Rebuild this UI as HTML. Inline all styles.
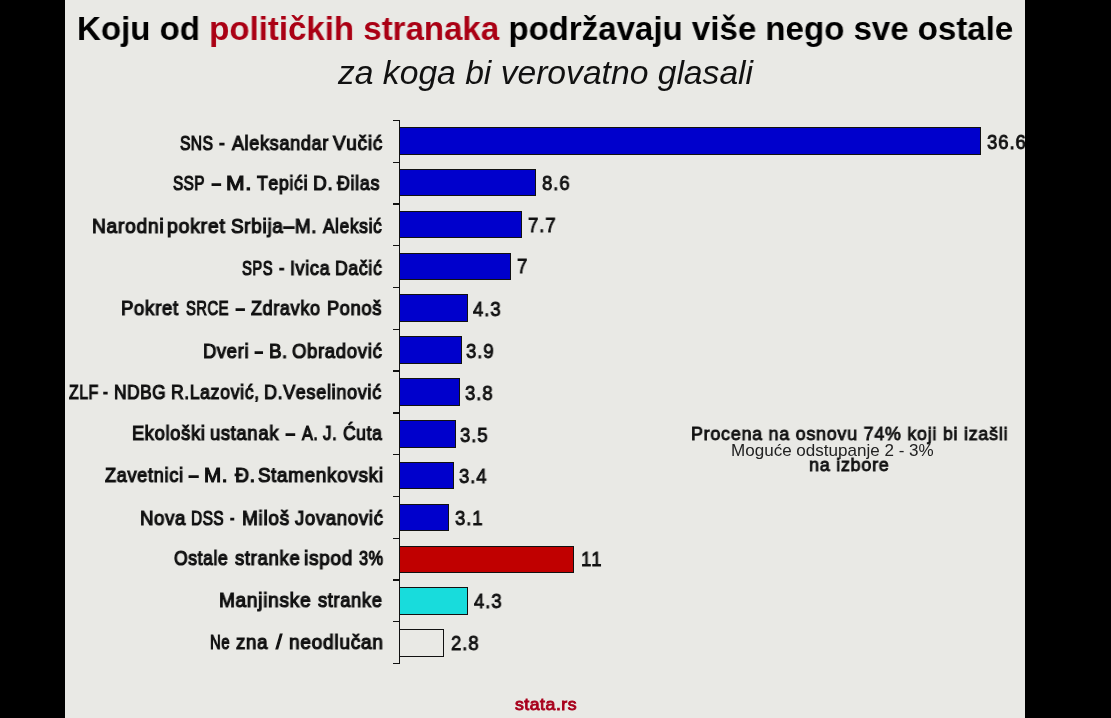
<!DOCTYPE html>
<html><head><meta charset="utf-8"><style>
html,body{margin:0;padding:0;}
body{width:1111px;height:718px;background:#000;position:relative;overflow:hidden;font-family:"Liberation Sans",sans-serif;}
#slide{position:absolute;left:65px;top:0;width:960px;height:718px;background:#e9e9e5;}
.t{position:absolute;white-space:pre;line-height:1;transform-origin:0 0;will-change:transform;}
.bar{position:absolute;box-sizing:border-box;border:1px solid #111;}
.ax{position:absolute;background:#111;}
#rblack{position:absolute;left:1025px;top:0;width:86px;height:718px;background:#000;}
</style></head><body>
<div id="slide"></div>

<div id="title" class="t" style="left:76.77px;top:11.64px;font-size:33.5px;font-weight:bold;font-style:normal;color:#000;transform:scaleX(0.9861);">Koju od <span style="color:#aa0014">političkih stranaka</span> podržavaju više nego sve ostale</div>
<div id="sub" class="t" style="left:337.62px;top:56.69px;font-size:32.5px;font-weight:normal;font-style:italic;color:#111;transform:scaleX(1.0348);">za koga bi verovatno glasali</div>
<div class="ax" style="left:399.00px;top:119.90px;width:1.3px;height:543.88px"></div>
<div class="ax" style="left:393.00px;top:119.90px;width:6.5px;height:1.3px"></div>
<div class="ax" style="left:393.00px;top:161.66px;width:6.5px;height:1.3px"></div>
<div class="ax" style="left:393.00px;top:203.42px;width:6.5px;height:1.3px"></div>
<div class="ax" style="left:393.00px;top:245.18px;width:6.5px;height:1.3px"></div>
<div class="ax" style="left:393.00px;top:286.94px;width:6.5px;height:1.3px"></div>
<div class="ax" style="left:393.00px;top:328.70px;width:6.5px;height:1.3px"></div>
<div class="ax" style="left:393.00px;top:370.46px;width:6.5px;height:1.3px"></div>
<div class="ax" style="left:393.00px;top:412.22px;width:6.5px;height:1.3px"></div>
<div class="ax" style="left:393.00px;top:453.98px;width:6.5px;height:1.3px"></div>
<div class="ax" style="left:393.00px;top:495.74px;width:6.5px;height:1.3px"></div>
<div class="ax" style="left:393.00px;top:537.50px;width:6.5px;height:1.3px"></div>
<div class="ax" style="left:393.00px;top:579.26px;width:6.5px;height:1.3px"></div>
<div class="ax" style="left:393.00px;top:621.02px;width:6.5px;height:1.3px"></div>
<div class="ax" style="left:393.00px;top:662.78px;width:6.5px;height:1.3px"></div>
<div class="bar" style="left:399.00px;top:127.00px;width:581.50px;height:27.6px;background:#0000cc"></div>
<div class="bar" style="left:399.00px;top:168.85px;width:137.40px;height:27.6px;background:#0000cc"></div>
<div class="bar" style="left:399.00px;top:210.70px;width:123.13px;height:27.6px;background:#0000cc"></div>
<div class="bar" style="left:399.00px;top:252.55px;width:112.02px;height:27.6px;background:#0000cc"></div>
<div class="bar" style="left:399.00px;top:294.40px;width:69.20px;height:27.6px;background:#0000cc"></div>
<div class="bar" style="left:399.00px;top:336.25px;width:62.86px;height:27.6px;background:#0000cc"></div>
<div class="bar" style="left:399.00px;top:378.10px;width:61.27px;height:27.6px;background:#0000cc"></div>
<div class="bar" style="left:399.00px;top:419.95px;width:56.51px;height:27.6px;background:#0000cc"></div>
<div class="bar" style="left:399.00px;top:461.80px;width:54.93px;height:27.6px;background:#0000cc"></div>
<div class="bar" style="left:399.00px;top:503.65px;width:50.17px;height:27.6px;background:#0000cc"></div>
<div class="bar" style="left:399.00px;top:545.50px;width:175.47px;height:27.6px;background:#c00000"></div>
<div class="bar" style="left:399.00px;top:587.35px;width:69.20px;height:27.6px;background:#18dcdc"></div>
<div class="bar" style="left:399.00px;top:629.20px;width:45.41px;height:27.6px;background:transparent"></div>
<div id="lab0w0" class="t" style="left:179.56px;top:132.86px;font-size:20.6px;font-weight:normal;font-style:normal;color:#111;transform:scaleX(0.7571);letter-spacing:0.8px;-webkit-text-stroke-width:1.2px;"><span style="letter-spacing:0.6px">SNS</span></div>
<div id="lab0w1" class="t" style="left:218.94px;top:132.86px;font-size:20.6px;font-weight:normal;font-style:normal;color:#111;transform:scaleX(0.8382);letter-spacing:0.8px;-webkit-text-stroke-width:1.2px;">-</div>
<div id="lab0w2" class="t" style="left:231.50px;top:132.86px;font-size:20.6px;font-weight:normal;font-style:normal;color:#111;transform:scaleX(0.8746);letter-spacing:0.8px;-webkit-text-stroke-width:1.2px;"><span style="letter-spacing:0.6px">A</span>leksandar</div>
<div id="lab0w3" class="t" style="left:332.72px;top:132.86px;font-size:20.6px;font-weight:normal;font-style:normal;color:#111;transform:scaleX(0.9247);letter-spacing:0.8px;-webkit-text-stroke-width:1.2px;"><span style="letter-spacing:0.6px">V</span>učić</div>
<div id="val0" class="t" style="left:987.00px;top:131.63px;font-size:20.4px;font-weight:normal;font-style:normal;color:#111;transform:scaleX(0.9100);letter-spacing:1.0px;-webkit-text-stroke-width:0.9px;">36.6</div>
<div id="lab1w0" class="t" style="left:173.41px;top:172.86px;font-size:20.6px;font-weight:normal;font-style:normal;color:#111;transform:scaleX(0.7421);letter-spacing:0.8px;-webkit-text-stroke-width:1.2px;"><span style="letter-spacing:0.6px">SSP</span></div>
<div id="lab1w1" class="t" style="left:211.88px;top:172.86px;font-size:20.6px;font-weight:normal;font-style:normal;color:#111;transform:scaleX(0.7659);letter-spacing:0.8px;-webkit-text-stroke-width:1.2px;">–</div>
<div id="lab1w2" class="t" style="left:225.76px;top:172.86px;font-size:20.6px;font-weight:normal;font-style:normal;color:#111;transform:scaleX(1.0857);letter-spacing:0.8px;-webkit-text-stroke-width:1.2px;"><span style="letter-spacing:0.6px">M</span>.</div>
<div id="lab1w3" class="t" style="left:256.59px;top:172.86px;font-size:20.6px;font-weight:normal;font-style:normal;color:#111;transform:scaleX(0.8592);letter-spacing:0.8px;-webkit-text-stroke-width:1.2px;"><span style="letter-spacing:0.6px">T</span>epići</div>
<div id="lab1w4" class="t" style="left:312.61px;top:172.86px;font-size:20.6px;font-weight:normal;font-style:normal;color:#111;transform:scaleX(0.9255);letter-spacing:0.8px;-webkit-text-stroke-width:1.2px;"><span style="letter-spacing:0.6px">D</span>.</div>
<div id="lab1w5" class="t" style="left:336.68px;top:172.86px;font-size:20.6px;font-weight:normal;font-style:normal;color:#111;transform:scaleX(0.8695);letter-spacing:0.8px;-webkit-text-stroke-width:1.2px;"><span style="letter-spacing:0.6px">Đ</span>ilas</div>
<div id="val1" class="t" style="left:542.42px;top:173.23px;font-size:20.4px;font-weight:normal;font-style:normal;color:#111;transform:scaleX(0.9100);letter-spacing:1.0px;-webkit-text-stroke-width:0.9px;">8.6</div>
<div id="lab2w0" class="t" style="left:91.69px;top:215.56px;font-size:20.6px;font-weight:normal;font-style:normal;color:#111;transform:scaleX(0.9323);letter-spacing:0.8px;-webkit-text-stroke-width:1.2px;"><span style="letter-spacing:0.6px">N</span>arodni</div>
<div id="lab2w1" class="t" style="left:167.07px;top:215.56px;font-size:20.6px;font-weight:normal;font-style:normal;color:#111;transform:scaleX(0.9456);letter-spacing:0.8px;-webkit-text-stroke-width:1.2px;">pokret</div>
<div id="lab2w2" class="t" style="left:231.47px;top:215.56px;font-size:20.6px;font-weight:normal;font-style:normal;color:#111;transform:scaleX(0.9189);letter-spacing:0.8px;-webkit-text-stroke-width:1.2px;"><span style="letter-spacing:0.6px">S</span>rbija–<span style="letter-spacing:0.6px">M</span>.</div>
<div id="lab2w3" class="t" style="left:323.11px;top:215.56px;font-size:20.6px;font-weight:normal;font-style:normal;color:#111;transform:scaleX(0.8408);letter-spacing:0.8px;-webkit-text-stroke-width:1.2px;"><span style="letter-spacing:0.6px">A</span>leksić</div>
<div id="val2" class="t" style="left:528.40px;top:215.43px;font-size:20.4px;font-weight:normal;font-style:normal;color:#111;transform:scaleX(0.9100);letter-spacing:1.0px;-webkit-text-stroke-width:0.9px;">7.7</div>
<div id="lab3w0" class="t" style="left:241.59px;top:257.56px;font-size:20.6px;font-weight:normal;font-style:normal;color:#111;transform:scaleX(0.7216);letter-spacing:0.8px;-webkit-text-stroke-width:1.2px;"><span style="letter-spacing:0.6px">SPS</span></div>
<div id="lab3w1" class="t" style="left:278.99px;top:257.56px;font-size:20.6px;font-weight:normal;font-style:normal;color:#111;transform:scaleX(0.7833);letter-spacing:0.8px;-webkit-text-stroke-width:1.2px;">-</div>
<div id="lab3w2" class="t" style="left:290.07px;top:257.56px;font-size:20.6px;font-weight:normal;font-style:normal;color:#111;transform:scaleX(0.8730);letter-spacing:0.8px;-webkit-text-stroke-width:1.2px;"><span style="letter-spacing:0.6px">I</span>vica</div>
<div id="lab3w3" class="t" style="left:335.18px;top:257.56px;font-size:20.6px;font-weight:normal;font-style:normal;color:#111;transform:scaleX(0.8593);letter-spacing:0.8px;-webkit-text-stroke-width:1.2px;"><span style="letter-spacing:0.6px">D</span>ačić</div>
<div id="val3" class="t" style="left:517.27px;top:256.43px;font-size:20.4px;font-weight:normal;font-style:normal;color:#111;transform:scaleX(0.9100);letter-spacing:1.0px;-webkit-text-stroke-width:0.9px;">7</div>
<div id="lab4w0" class="t" style="left:120.77px;top:298.36px;font-size:20.6px;font-weight:normal;font-style:normal;color:#111;transform:scaleX(0.9039);letter-spacing:0.8px;-webkit-text-stroke-width:1.2px;"><span style="letter-spacing:0.6px">P</span>okret</div>
<div id="lab4w1" class="t" style="left:186.09px;top:298.36px;font-size:20.6px;font-weight:normal;font-style:normal;color:#111;transform:scaleX(0.7202);letter-spacing:0.8px;-webkit-text-stroke-width:1.2px;"><span style="letter-spacing:0.6px">SRCE</span></div>
<div id="lab4w2" class="t" style="left:236.14px;top:298.36px;font-size:20.6px;font-weight:normal;font-style:normal;color:#111;transform:scaleX(0.7315);letter-spacing:0.8px;-webkit-text-stroke-width:1.2px;">–</div>
<div id="lab4w3" class="t" style="left:250.90px;top:298.36px;font-size:20.6px;font-weight:normal;font-style:normal;color:#111;transform:scaleX(0.8742);letter-spacing:0.8px;-webkit-text-stroke-width:1.2px;"><span style="letter-spacing:0.6px">Z</span>dravko</div>
<div id="lab4w4" class="t" style="left:327.37px;top:298.36px;font-size:20.6px;font-weight:normal;font-style:normal;color:#111;transform:scaleX(0.8885);letter-spacing:0.8px;-webkit-text-stroke-width:1.2px;"><span style="letter-spacing:0.6px">P</span>onoš</div>
<div id="val4" class="t" style="left:473.21px;top:298.73px;font-size:20.4px;font-weight:normal;font-style:normal;color:#111;transform:scaleX(0.9100);letter-spacing:1.0px;-webkit-text-stroke-width:0.9px;">4.3</div>
<div id="lab5w0" class="t" style="left:203.48px;top:340.56px;font-size:20.6px;font-weight:normal;font-style:normal;color:#111;transform:scaleX(0.8943);letter-spacing:0.8px;-webkit-text-stroke-width:1.2px;"><span style="letter-spacing:0.6px">D</span>veri</div>
<div id="lab5w1" class="t" style="left:255.13px;top:340.56px;font-size:20.6px;font-weight:normal;font-style:normal;color:#111;transform:scaleX(0.6762);letter-spacing:0.8px;-webkit-text-stroke-width:1.2px;">–</div>
<div id="lab5w2" class="t" style="left:269.24px;top:340.56px;font-size:20.6px;font-weight:normal;font-style:normal;color:#111;transform:scaleX(0.9101);letter-spacing:0.8px;-webkit-text-stroke-width:1.2px;"><span style="letter-spacing:0.6px">B</span>.</div>
<div id="lab5w3" class="t" style="left:291.90px;top:340.56px;font-size:20.6px;font-weight:normal;font-style:normal;color:#111;transform:scaleX(0.8979);letter-spacing:0.8px;-webkit-text-stroke-width:1.2px;"><span style="letter-spacing:0.6px">O</span>bradović</div>
<div id="val5" class="t" style="left:465.92px;top:340.53px;font-size:20.4px;font-weight:normal;font-style:normal;color:#111;transform:scaleX(0.9100);letter-spacing:1.0px;-webkit-text-stroke-width:0.9px;">3.9</div>
<div id="lab6w0" class="t" style="left:68.68px;top:382.46px;font-size:20.6px;font-weight:normal;font-style:normal;color:#111;transform:scaleX(0.7739);letter-spacing:0.8px;-webkit-text-stroke-width:1.2px;"><span style="letter-spacing:0.6px">ZLF</span></div>
<div id="lab6w1" class="t" style="left:102.88px;top:382.46px;font-size:20.6px;font-weight:normal;font-style:normal;color:#111;transform:scaleX(0.7163);letter-spacing:0.8px;-webkit-text-stroke-width:1.2px;">-</div>
<div id="lab6w2" class="t" style="left:113.96px;top:382.46px;font-size:20.6px;font-weight:normal;font-style:normal;color:#111;transform:scaleX(0.8424);letter-spacing:0.8px;-webkit-text-stroke-width:1.2px;"><span style="letter-spacing:0.6px">NDBG</span></div>
<div id="lab6w3" class="t" style="left:171.02px;top:382.46px;font-size:20.6px;font-weight:normal;font-style:normal;color:#111;transform:scaleX(0.8556);letter-spacing:0.8px;-webkit-text-stroke-width:1.2px;"><span style="letter-spacing:0.6px">R</span>.<span style="letter-spacing:0.6px">L</span>azović,</div>
<div id="lab6w4" class="t" style="left:264.00px;top:382.46px;font-size:20.6px;font-weight:normal;font-style:normal;color:#111;transform:scaleX(0.8746);letter-spacing:0.8px;-webkit-text-stroke-width:1.2px;"><span style="letter-spacing:0.6px">D</span>.<span style="letter-spacing:0.6px">V</span>eselinović</div>
<div id="val6" class="t" style="left:465.48px;top:383.13px;font-size:20.4px;font-weight:normal;font-style:normal;color:#111;transform:scaleX(0.9100);letter-spacing:1.0px;-webkit-text-stroke-width:0.9px;">3.8</div>
<div id="lab7w0" class="t" style="left:132.47px;top:423.36px;font-size:20.6px;font-weight:normal;font-style:normal;color:#111;transform:scaleX(0.8888);letter-spacing:0.8px;-webkit-text-stroke-width:1.2px;"><span style="letter-spacing:0.6px">E</span>kološki</div>
<div id="lab7w1" class="t" style="left:209.79px;top:423.36px;font-size:20.6px;font-weight:normal;font-style:normal;color:#111;transform:scaleX(0.8888);letter-spacing:0.8px;-webkit-text-stroke-width:1.2px;">ustanak</div>
<div id="lab7w2" class="t" style="left:286.28px;top:423.36px;font-size:20.6px;font-weight:normal;font-style:normal;color:#111;transform:scaleX(0.7707);letter-spacing:0.8px;-webkit-text-stroke-width:1.2px;">–</div>
<div id="lab7w3" class="t" style="left:301.58px;top:423.36px;font-size:20.6px;font-weight:normal;font-style:normal;color:#111;transform:scaleX(0.7929);letter-spacing:0.8px;-webkit-text-stroke-width:1.2px;"><span style="letter-spacing:0.6px">A</span>.</div>
<div id="lab7w4" class="t" style="left:322.70px;top:423.36px;font-size:20.6px;font-weight:normal;font-style:normal;color:#111;transform:scaleX(0.8253);letter-spacing:0.8px;-webkit-text-stroke-width:1.2px;"><span style="letter-spacing:0.6px">J</span>.</div>
<div id="lab7w5" class="t" style="left:342.51px;top:423.36px;font-size:20.6px;font-weight:normal;font-style:normal;color:#111;transform:scaleX(0.8500);letter-spacing:0.8px;-webkit-text-stroke-width:1.2px;"><span style="letter-spacing:0.6px">Ć</span>uta</div>
<div id="val7" class="t" style="left:460.14px;top:424.53px;font-size:20.4px;font-weight:normal;font-style:normal;color:#111;transform:scaleX(0.9100);letter-spacing:1.0px;-webkit-text-stroke-width:0.9px;">3.5</div>
<div id="lab8w0" class="t" style="left:105.00px;top:465.26px;font-size:20.6px;font-weight:normal;font-style:normal;color:#111;transform:scaleX(0.8812);letter-spacing:0.8px;-webkit-text-stroke-width:1.2px;"><span style="letter-spacing:0.6px">Z</span>avetnici</div>
<div id="lab8w1" class="t" style="left:189.28px;top:465.26px;font-size:20.6px;font-weight:normal;font-style:normal;color:#111;transform:scaleX(0.8047);letter-spacing:0.8px;-webkit-text-stroke-width:1.2px;">–</div>
<div id="lab8w2" class="t" style="left:203.88px;top:465.26px;font-size:20.6px;font-weight:normal;font-style:normal;color:#111;transform:scaleX(0.9969);letter-spacing:0.8px;-webkit-text-stroke-width:1.2px;"><span style="letter-spacing:0.6px">M</span>.</div>
<div id="lab8w3" class="t" style="left:235.30px;top:465.26px;font-size:20.6px;font-weight:normal;font-style:normal;color:#111;transform:scaleX(0.9438);letter-spacing:0.8px;-webkit-text-stroke-width:1.2px;"><span style="letter-spacing:0.6px">Đ</span>.</div>
<div id="lab8w4" class="t" style="left:258.29px;top:465.26px;font-size:20.6px;font-weight:normal;font-style:normal;color:#111;transform:scaleX(0.9139);letter-spacing:0.8px;-webkit-text-stroke-width:1.2px;"><span style="letter-spacing:0.6px">S</span>tamenkovski</div>
<div id="val8" class="t" style="left:459.19px;top:466.33px;font-size:20.4px;font-weight:normal;font-style:normal;color:#111;transform:scaleX(0.9100);letter-spacing:1.0px;-webkit-text-stroke-width:0.9px;">3.4</div>
<div id="lab9w0" class="t" style="left:139.99px;top:507.66px;font-size:20.6px;font-weight:normal;font-style:normal;color:#111;transform:scaleX(0.9042);letter-spacing:0.8px;-webkit-text-stroke-width:1.2px;"><span style="letter-spacing:0.6px">N</span>ova</div>
<div id="lab9w1" class="t" style="left:190.88px;top:507.66px;font-size:20.6px;font-weight:normal;font-style:normal;color:#111;transform:scaleX(0.7502);letter-spacing:0.8px;-webkit-text-stroke-width:1.2px;"><span style="letter-spacing:0.6px">DSS</span></div>
<div id="lab9w2" class="t" style="left:230.41px;top:507.66px;font-size:20.6px;font-weight:normal;font-style:normal;color:#111;transform:scaleX(0.6417);letter-spacing:0.8px;-webkit-text-stroke-width:1.2px;">-</div>
<div id="lab9w3" class="t" style="left:242.16px;top:507.66px;font-size:20.6px;font-weight:normal;font-style:normal;color:#111;transform:scaleX(0.9244);letter-spacing:0.8px;-webkit-text-stroke-width:1.2px;"><span style="letter-spacing:0.6px">M</span>iloš</div>
<div id="lab9w4" class="t" style="left:294.70px;top:507.66px;font-size:20.6px;font-weight:normal;font-style:normal;color:#111;transform:scaleX(0.8995);letter-spacing:0.8px;-webkit-text-stroke-width:1.2px;"><span style="letter-spacing:0.6px">J</span>ovanović</div>
<div id="val9" class="t" style="left:454.85px;top:508.43px;font-size:20.4px;font-weight:normal;font-style:normal;color:#111;transform:scaleX(0.9100);letter-spacing:1.0px;-webkit-text-stroke-width:0.9px;">3.1</div>
<div id="lab10w0" class="t" style="left:174.20px;top:547.86px;font-size:20.6px;font-weight:normal;font-style:normal;color:#111;transform:scaleX(0.8495);letter-spacing:0.8px;-webkit-text-stroke-width:1.2px;"><span style="letter-spacing:0.6px">O</span>stale</div>
<div id="lab10w1" class="t" style="left:234.71px;top:547.86px;font-size:20.6px;font-weight:normal;font-style:normal;color:#111;transform:scaleX(0.8941);letter-spacing:0.8px;-webkit-text-stroke-width:1.2px;">stranke</div>
<div id="lab10w2" class="t" style="left:304.14px;top:547.86px;font-size:20.6px;font-weight:normal;font-style:normal;color:#111;transform:scaleX(0.9197);letter-spacing:0.8px;-webkit-text-stroke-width:1.2px;">ispod</div>
<div id="lab10w3" class="t" style="left:358.72px;top:547.86px;font-size:20.6px;font-weight:normal;font-style:normal;color:#111;transform:scaleX(0.7861);letter-spacing:0.8px;-webkit-text-stroke-width:1.2px;">3%</div>
<div id="val10" class="t" style="left:580.64px;top:549.33px;font-size:20.4px;font-weight:normal;font-style:normal;color:#111;transform:scaleX(0.9100);letter-spacing:1.5px;-webkit-text-stroke-width:0.9px;">11</div>
<div id="lab11w0" class="t" style="left:219.48px;top:590.16px;font-size:20.6px;font-weight:normal;font-style:normal;color:#111;transform:scaleX(0.9266);letter-spacing:0.8px;-webkit-text-stroke-width:1.2px;"><span style="letter-spacing:0.6px">M</span>anjinske</div>
<div id="lab11w1" class="t" style="left:317.79px;top:590.16px;font-size:20.6px;font-weight:normal;font-style:normal;color:#111;transform:scaleX(0.8822);letter-spacing:0.8px;-webkit-text-stroke-width:1.2px;">stranke</div>
<div id="val11" class="t" style="left:473.71px;top:591.33px;font-size:20.4px;font-weight:normal;font-style:normal;color:#111;transform:scaleX(0.9100);letter-spacing:1.0px;-webkit-text-stroke-width:0.9px;">4.3</div>
<div id="lab12w0" class="t" style="left:209.95px;top:632.06px;font-size:20.6px;font-weight:normal;font-style:normal;color:#111;transform:scaleX(0.7255);letter-spacing:0.8px;-webkit-text-stroke-width:1.2px;"><span style="letter-spacing:0.6px">N</span>e</div>
<div id="lab12w1" class="t" style="left:236.20px;top:632.06px;font-size:20.6px;font-weight:normal;font-style:normal;color:#111;transform:scaleX(0.9061);letter-spacing:0.8px;-webkit-text-stroke-width:1.2px;">zna</div>
<div id="lab12w2" class="t" style="left:276.24px;top:632.06px;font-size:20.6px;font-weight:normal;font-style:normal;color:#111;transform:scaleX(1.0443);letter-spacing:0.8px;-webkit-text-stroke-width:1.2px;">/</div>
<div id="lab12w3" class="t" style="left:289.08px;top:632.06px;font-size:20.6px;font-weight:normal;font-style:normal;color:#111;transform:scaleX(0.9255);letter-spacing:0.8px;-webkit-text-stroke-width:1.2px;">neodlučan</div>
<div id="val12" class="t" style="left:451.01px;top:633.43px;font-size:20.4px;font-weight:normal;font-style:normal;color:#111;transform:scaleX(0.9100);letter-spacing:1.0px;-webkit-text-stroke-width:0.9px;">2.8</div>
<div id="note1" class="t" style="left:691.28px;top:424.23px;font-size:19.1px;font-weight:normal;font-style:normal;color:#111;transform:scaleX(0.9366);letter-spacing:0.8px;-webkit-text-stroke-width:0.9px;">Procena na osnovu 74% koji bi izašli</div>
<div id="note3" class="t" style="left:809.06px;top:455.13px;font-size:19.1px;font-weight:normal;font-style:normal;color:#111;transform:scaleX(0.9389);letter-spacing:0.8px;-webkit-text-stroke-width:0.9px;">na izbore</div>
<div id="note2" class="t" style="left:730.97px;top:442.65px;font-size:16.6px;font-weight:normal;font-style:normal;color:#222;transform:scaleX(1.0269);">Moguće odstupanje 2 - 3%</div>
<div id="foot" class="t" style="left:514.76px;top:695.61px;font-size:17.0px;font-weight:normal;font-style:normal;color:#a8001c;transform:scaleX(1.0388);letter-spacing:0.5px;-webkit-text-stroke-width:0.9px;">stata.rs</div>
<div id="rblack"></div>
</body></html>
